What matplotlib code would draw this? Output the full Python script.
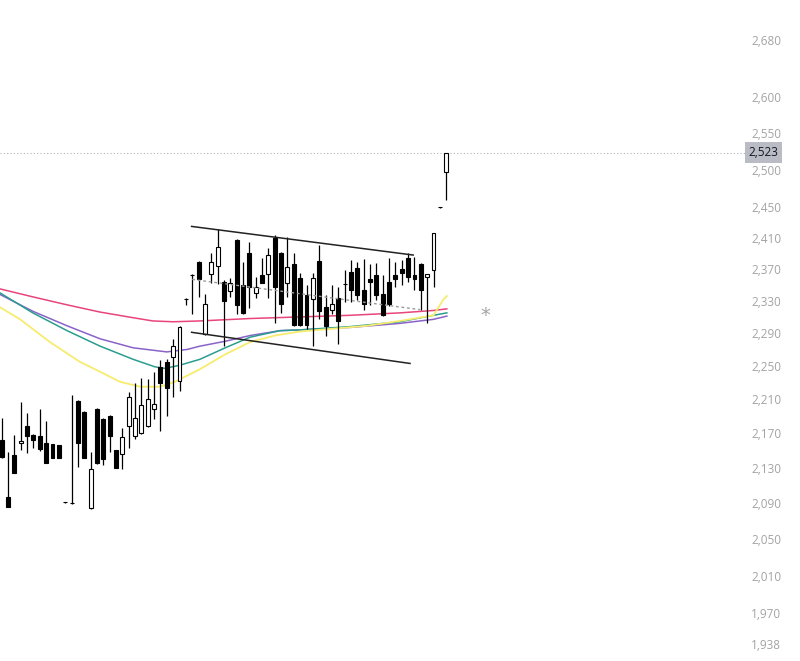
import matplotlib
matplotlib.use("Agg")
import matplotlib.pyplot as plt
import matplotlib.transforms as mtransforms
from matplotlib.ticker import FixedLocator, NullLocator, FixedFormatter

# ---------------- data ----------------
opens = [2162, 2097, 2145, 2159, 2179, 2168, 2167, 2159, 2158, 2157,
         2091, 2090, 2208, 2195, 2085, 2199, 2187, 2190, 2151, 2146,
         2179, 2167, 2170, 2179, 2199, 2249, 2255, 2261, 2232, 2332,
         2363, 2379, 2289, 2364, 2374, 2354, 2342, 2407, 2350, 2390,
         2340, 2363, 2364, 2410, 2391, 2353, 2376, 2359, 2337, 2332,
         2381, 2322, 2318, 2334, 2351, 2367, 2372, 2343, 2358, 2363,
         2339, 2354, 2363, 2370, 2384, 2363, 2376, 2360, 2369, 2450,
         2497]
highs = [2188, 2148, 2168, 2207, 2194, 2169, 2199, 2184, 2158, 2157,
         2092, 2215, 2209, 2196, 2148, 2200, 2188, 2191, 2151, 2176,
         2219, 2230, 2236, 2234, 2243, 2257, 2258, 2283, 2299, 2333,
         2364, 2380, 2338, 2391, 2421, 2356, 2359, 2409, 2379, 2405,
         2360, 2384, 2397, 2414, 2392, 2411, 2391, 2365, 2350, 2365,
         2401, 2337, 2350, 2348, 2369, 2382, 2379, 2383, 2376, 2378,
         2363, 2384, 2379, 2382, 2391, 2386, 2378, 2364, 2416, 2451,
         2523]
lows = [2141, 2086, 2124, 2151, 2147, 2153, 2150, 2136, 2141, 2142,
        2090, 2089, 2131, 2141, 2084, 2135, 2134, 2148, 2130, 2129,
        2153, 2164, 2169, 2178, 2187, 2173, 2190, 2213, 2220, 2325,
        2313, 2335, 2288, 2353, 2351, 2274, 2335, 2313, 2313, 2321,
        2334, 2353, 2334, 2302, 2315, 2335, 2299, 2299, 2295, 2274,
        2307, 2286, 2313, 2277, 2328, 2328, 2331, 2319, 2325, 2331,
        2311, 2324, 2348, 2350, 2354, 2344, 2319, 2303, 2347, 2449,
        2460]
closes = [2143, 2086, 2124, 2161, 2167, 2162, 2152, 2136, 2141, 2142,
          2091, 2090, 2159, 2142, 2129, 2136, 2140, 2167, 2130, 2166,
          2213, 2188, 2203, 2210, 2205, 2229, 2223, 2274, 2298, 2332,
          2363, 2358, 2326, 2379, 2398, 2330, 2353, 2325, 2315, 2347,
          2348, 2353, 2388, 2348, 2326, 2373, 2300, 2300, 2300, 2359,
          2317, 2299, 2326, 2305, 2351, 2343, 2337, 2326, 2354, 2337,
          2312, 2326, 2357, 2365, 2360, 2358, 2343, 2364, 2416, 2450,
          2523]

# moving averages (bar index, price)
ma_pink_x = [-0.27, 4.9, 10.3, 15.5, 20.7, 23.8, 27.0, 31.2, 39.1, 47.0, 54.9, 62.7, 68.0, 70.1]
ma_pink_y = [2345, 2335, 2325, 2316, 2309, 2305, 2304, 2305, 2308, 2310, 2312, 2315, 2318, 2320]
ma_purple_x = [-0.27, 4.9, 10.3, 15.5, 20.7, 26.0, 29.2, 31.2, 35.2, 39.1, 43.8, 47.0, 54.9, 62.7, 68.0, 70.1]
ma_purple_y = [2338, 2317, 2299, 2283, 2272, 2267, 2270, 2274, 2280, 2287, 2293, 2294, 2297, 2302, 2307, 2311]
ma_teal_x = [-0.27, 4.9, 10.3, 15.5, 20.7, 24.1, 25.7, 28.1, 31.2, 35.2, 39.1, 43.8, 47.0, 54.9, 62.7, 68.0, 70.1]
ma_teal_y = [2340, 2315, 2293, 2274, 2258, 2249, 2247, 2251, 2258, 2272, 2285, 2293, 2294, 2298, 2304, 2312, 2315]
ma_yellow_x = [-0.27, 2.9, 7.6, 12.3, 15.5, 18.6, 21.8, 24.9, 27.3, 31.2, 35.2, 39.1, 43.0, 47.0, 57.5, 62.7, 68.0, 69.5, 70.1]
ma_yellow_y = [2322, 2307, 2279, 2255, 2243, 2231, 2225, 2225, 2231, 2246, 2264, 2279, 2287, 2292, 2299, 2305, 2312, 2331, 2336]

# drawn trend lines (bar index, price)
upper_x, upper_y = [29.9, 64.8], [2425, 2388]
lower_x, lower_y = [29.9, 64.3], [2291, 2253]
mid_x, mid_y = [30.0, 65.9], [2357, 2319]

last_price = 2523
ytick_vals = [1938, 1970, 2010, 2050, 2090, 2130, 2170, 2210, 2250, 2290,
              2330, 2370, 2410, 2450, 2500, 2550, 2600, 2680]
ytick_labels = ["1,938", "1,970", "2,010", "2,050", "2,090", "2,130", "2,170",
                "2,210", "2,250", "2,290", "2,330", "2,370", "2,410", "2,450",
                "2,500", "2,550", "2,600", "2,680"]

# ---------------- figure ----------------
fig = plt.figure(figsize=(8.0, 6.61), dpi=100)
ax = fig.add_axes([0, 0, 745 / 800, 1])
ax.set_yscale("log")
ax.set_ylim(1920.4, 2738.4)
ax.set_xlim(-0.268, 117.05)
for s in ax.spines.values():
    s.set_visible(False)
ax.set_xticks([])
ax.yaxis.set_major_locator(FixedLocator(ytick_vals))
ax.yaxis.set_major_formatter(FixedFormatter(ytick_labels))
ax.yaxis.set_minor_locator(NullLocator())
ax.yaxis.tick_right()
ax.tick_params(axis="y", length=0, pad=4.5, labelsize=8.5, labelcolor="#a3a3a3")
for lab in ax.get_yticklabels():
    lab.set_fontfamily("Open Sans")

# moving averages
ax.plot(ma_pink_x, ma_pink_y, color="#e8457a", lw=1.1, zorder=1)
ax.plot(ma_purple_x, ma_purple_y, color="#8a63c8", lw=1.1, zorder=1)
ax.plot(ma_teal_x, ma_teal_y, color="#2a9d8f", lw=1.1, zorder=1)
ax.plot(ma_yellow_x, ma_yellow_y, color="#f7ec6e", lw=1.3, zorder=1)

# candles
xs = list(range(len(opens)))
for i in xs:
    o, h, l, c = opens[i], highs[i], lows[i], closes[i]
    ax.vlines(i, l, h, color="black", lw=0.9, zorder=3)
    bull = c >= o
    ax.bar(i, abs(c - o), bottom=min(o, c), width=0.62,
           color="white" if bull else "black", edgecolor="black",
           linewidth=0.8, zorder=4)

# trend lines
ax.plot(upper_x, upper_y, color="#222222", lw=1.1, zorder=5)
ax.plot(lower_x, lower_y, color="#222222", lw=1.1, zorder=5)
ax.plot(mid_x, mid_y, color="#9a9a9a", lw=1.0, ls=(0, (2, 2)), zorder=5)

# last price line and label
ax.axhline(last_price, color="#b0b3bb", lw=0.8, ls=(0, (1, 2)), zorder=0)
trans = mtransforms.blended_transform_factory(ax.transAxes, ax.transData)
ax.text(1.005, last_price, "2,523", transform=trans, ha="left", va="center",
        fontsize=8.5, color="#131722", fontfamily="Open Sans", clip_on=False,
        bbox=dict(boxstyle="square,pad=0.32", fc="#b9bcc4", ec="none"))

# watermark mark (the Persian logo text cannot be drawn: no installed font has Arabic glyphs)
ax.text(76.2, 2312, "*", fontsize=14, color="#8c8c8c", alpha=0.8,
        ha="center", va="center", zorder=6)

fig.savefig("out.png", dpi=100, facecolor="white")
